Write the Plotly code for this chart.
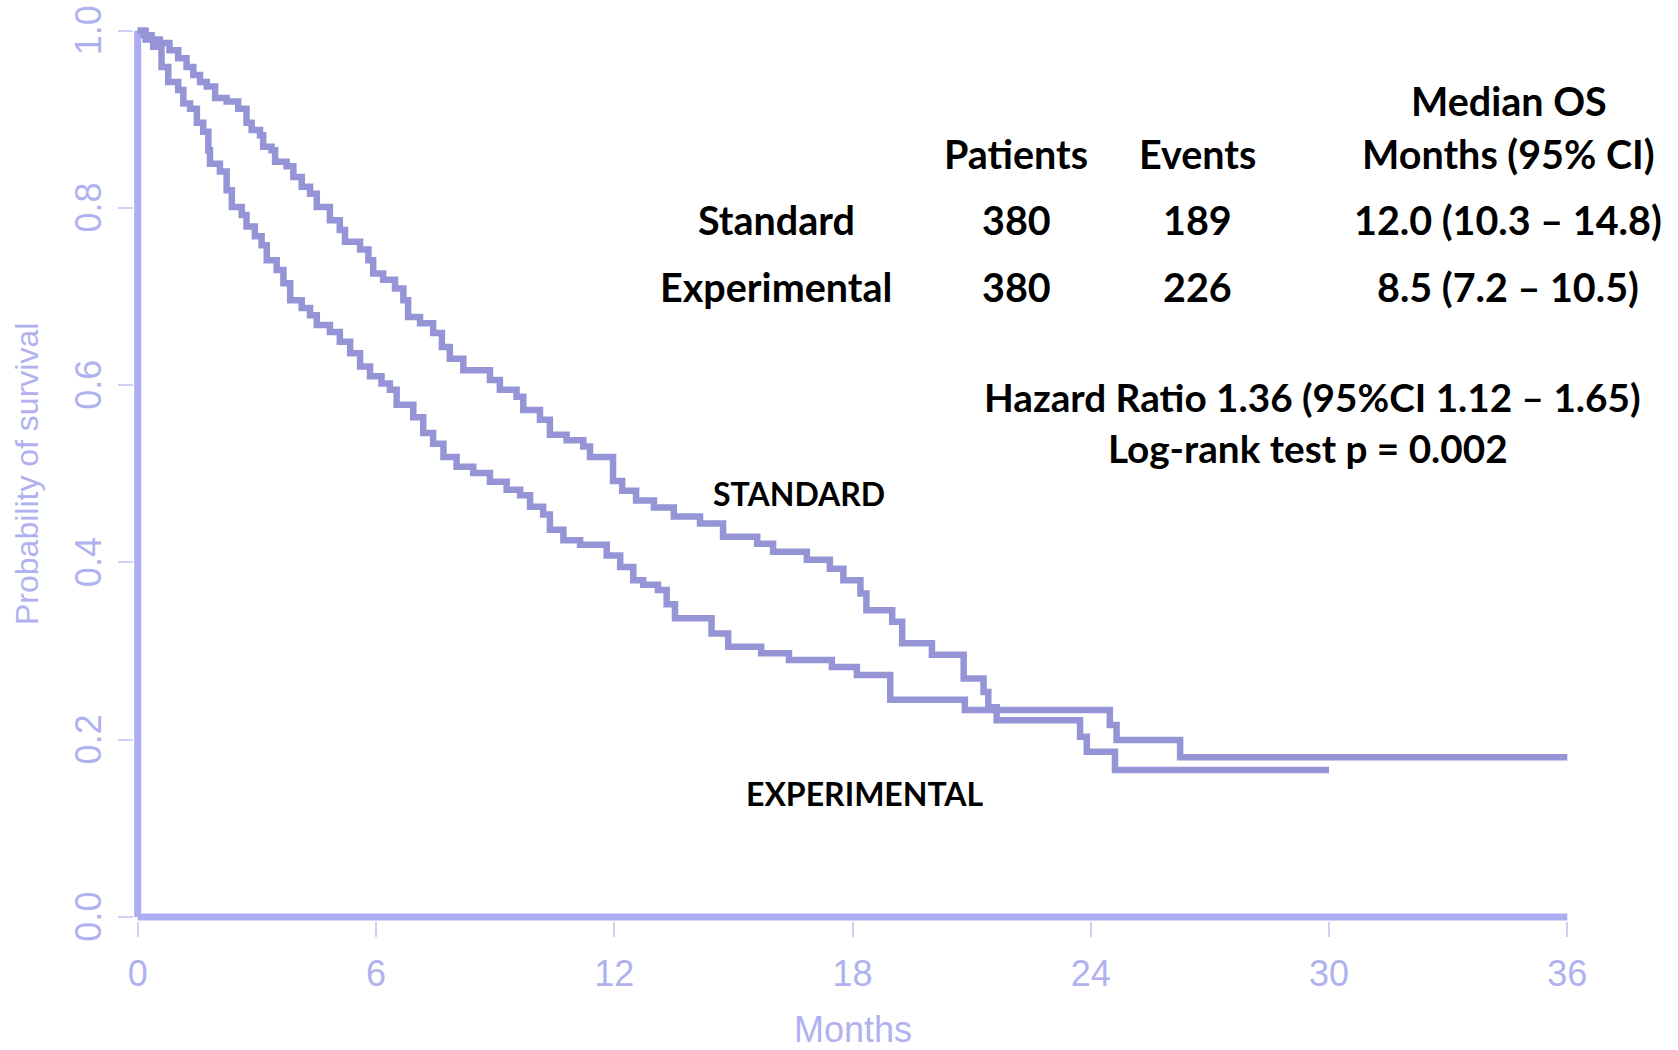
import plotly.graph_objects as go

# ---------------- data ----------------
std_time = [0, 0.15, 0.35, 0.56, 0.8, 1.02, 1.23, 1.4, 1.57, 1.74, 1.95, 2.24, 2.53, 2.74, 2.87,
            3.08, 3.16, 3.37, 3.46, 3.75, 3.92, 4.13, 4.34, 4.51, 4.84, 5.09, 5.22, 5.60, 5.81,
            5.93, 6.18, 6.48, 6.69, 6.81, 7.11, 7.44, 7.66, 7.86, 8.20, 8.87, 9.12, 9.54, 9.71,
            10.13, 10.38, 10.80, 11.22, 11.39, 11.97, 12.2, 12.55, 13.0, 13.5, 14.16, 14.74,
            15.6, 16.0, 16.85, 17.43, 17.77, 18.2, 18.35, 19.0, 19.25, 20.0, 20.8, 21.3, 21.42,
            21.63, 24.48, 24.65, 26.25, 36.0]
std_surv = [1.0, 0.995, 0.99, 0.986, 0.978, 0.969, 0.959, 0.95, 0.942, 0.937, 0.924, 0.920, 0.912,
            0.896, 0.888, 0.882, 0.869, 0.865, 0.852, 0.847, 0.835, 0.824, 0.816, 0.801, 0.786,
            0.775, 0.762, 0.753, 0.741, 0.726, 0.719, 0.709, 0.696, 0.677, 0.670, 0.659, 0.643,
            0.630, 0.617, 0.606, 0.595, 0.587, 0.572, 0.561, 0.544, 0.538, 0.531, 0.519, 0.492,
            0.481, 0.470, 0.462, 0.452, 0.444, 0.429, 0.421, 0.412, 0.403, 0.393, 0.380, 0.365,
            0.346, 0.333, 0.309, 0.296, 0.269, 0.254, 0.2366, 0.2335, 0.2166, 0.1997, 0.1802,
            0.1802]

exp_time = [0, 0.2, 0.39, 0.60, 0.77, 1.02, 1.15, 1.32, 1.49, 1.65, 1.78, 1.82, 2.07, 2.24, 2.37,
            2.62, 2.74, 2.95, 3.12, 3.25, 3.50, 3.67, 3.84, 4.13, 4.34, 4.51, 4.84, 5.09, 5.35,
            5.60, 5.85, 6.14, 6.35, 6.52, 6.94, 7.19, 7.44, 7.70, 8.03, 8.45, 8.87, 9.29, 9.63,
            9.88, 10.21, 10.38, 10.72, 11.14, 11.81, 12.15, 12.48, 12.73, 13.1, 13.32, 13.53,
            14.45, 14.87, 15.7, 16.4, 17.48, 18.11, 18.95, 20.83, 21.63, 23.73, 23.9, 24.61, 30.0]
exp_surv = [1.0, 0.99, 0.982, 0.959, 0.942, 0.933, 0.918, 0.912, 0.896, 0.886, 0.865, 0.850,
            0.841, 0.820, 0.801, 0.792, 0.779, 0.768, 0.758, 0.741, 0.730, 0.715, 0.696, 0.687,
            0.679, 0.668, 0.660, 0.649, 0.636, 0.621, 0.610, 0.602, 0.595, 0.578, 0.564, 0.546,
            0.534, 0.519, 0.508, 0.501, 0.491, 0.482, 0.476, 0.463, 0.454, 0.437, 0.425, 0.420,
            0.408, 0.395, 0.380, 0.375, 0.369, 0.353, 0.337, 0.320, 0.305, 0.2975, 0.290, 0.282,
            0.273, 0.245, 0.2335, 0.222, 0.2034, 0.1865, 0.166, 0.166]

x_ticks = [0, 6, 12, 18, 24, 30, 36]
y_ticks = [0.0, 0.2, 0.4, 0.6, 0.8, 1.0]
y_tick_text = ["0.0", "0.2", "0.4", "0.6", "0.8", "1.0"]

table_header = ["Patients", "Events"]
groups = ["Standard", "Experimental"]
patients = ["380", "380"]
events = ["189", "226"]
median_os = ["12.0 (10.3 – 14.8)", "8.5 (7.2 – 10.5)"]
hr_text = "Hazard Ratio 1.36 (95%CI 1.12 – 1.65)"
logrank_text = "Log-rank test p = 0.002"

# ---------------- layout geometry ----------------
W, H = 1678, 1050
ML, MR, MT, MB = 134, 107, 26, 129
PW, PH = W - ML - MR, H - MT - MB

def px(xp, yp):
    return (xp - ML) / PW, (H - MB - yp) / PH

CURVE = "#9494D6"
AXIS = "#ADADF2"
LABEL = "#B0B2F0"
TXT_FONT = "Lato, 'Noto Sans', sans-serif"
AX_FONT = "'Liberation Sans', Arial, sans-serif"

fig = go.Figure()
fig.add_trace(go.Scatter(x=std_time, y=std_surv, mode="lines", line_shape="hv",
                         line=dict(color=CURVE, width=6.5), name="Standard", showlegend=False))
fig.add_trace(go.Scatter(x=exp_time, y=exp_surv, mode="lines", line_shape="hv",
                         line=dict(color=CURVE, width=6.5), name="Experimental", showlegend=False))

# axis lines (R-style, spanning the data range only)
fig.add_shape(type="line", x0=x_ticks[0], x1=x_ticks[-1], y0=0, y1=0, xref="x", yref="y",
              line=dict(color=AXIS, width=7), layer="below")
fig.add_shape(type="line", x0=0, x1=0, y0=y_ticks[0], y1=y_ticks[-1], xref="x", yref="y",
              line=dict(color=AXIS, width=7), layer="below")

annos = []
def add_text(t, xp, yp, size=39.5, color="black", bold=True, angle=0, family=TXT_FONT,
             yanchor="middle"):
    ax, ay = px(xp, yp)
    annos.append(dict(text=("<b>%s</b>" % t) if bold else t, x=ax, y=ay, xref="paper", yref="paper",
                      xanchor="center", yanchor=yanchor, showarrow=False, textangle=angle,
                      font=dict(family=family, size=size, color=color)))

add_text("Median OS", 1509, 101)
add_text("Months (95% CI)", 1508, 153)
add_text(table_header[0], 1016, 153)
add_text(table_header[1], 1197, 153)
row_y = [219, 286]
for i in range(2):
    add_text(groups[i], 776, row_y[i])
    add_text(patients[i], 1016, row_y[i])
    add_text(events[i], 1197, row_y[i])
    add_text(median_os[i], 1508, row_y[i])
add_text(hr_text, 1312, 397, size=38.7)
add_text(logrank_text, 1308, 448, size=38.7)
add_text("STANDARD", 799, 493, size=32)
add_text("EXPERIMENTAL", 865, 793, size=32)

add_text("Months", 853, 1052, size=36, color=LABEL, bold=False, family=AX_FONT, yanchor="bottom")
add_text("Probability of survival", 27, 474, size=32, color=LABEL, bold=False, angle=-90,
         family=AX_FONT)

fig.update_layout(
    width=W, height=H,
    margin=dict(l=ML, r=MR, t=MT, b=MB, pad=0, autoexpand=False),
    paper_bgcolor="white", plot_bgcolor="white",
    annotations=annos,
    xaxis=dict(range=[-0.093, 36.093], tickmode="array", tickvals=x_ticks,
               ticktext=[str(v) for v in x_ticks], showgrid=False, zeroline=False, showline=False,
               automargin=False,
               ticks="outside", ticklen=15, tickwidth=1.5, tickcolor="#D0D0F6",
               tickfont=dict(family=AX_FONT, size=36, color=LABEL),
               ticklabelstandoff=6),
    yaxis=dict(range=[-0.0045, 1.0053], tickmode="array", tickvals=y_ticks, ticktext=y_tick_text,
               showgrid=False, zeroline=False, showline=False, tickangle=-90, automargin=False,
               ticks="outside", ticklen=15, tickwidth=1.5, tickcolor="#D0D0F6",
               tickfont=dict(family=AX_FONT, size=36, color=LABEL),
               ticklabelstandoff=3, ticklabelshift=5),
)

fig.write_html("out.html")
